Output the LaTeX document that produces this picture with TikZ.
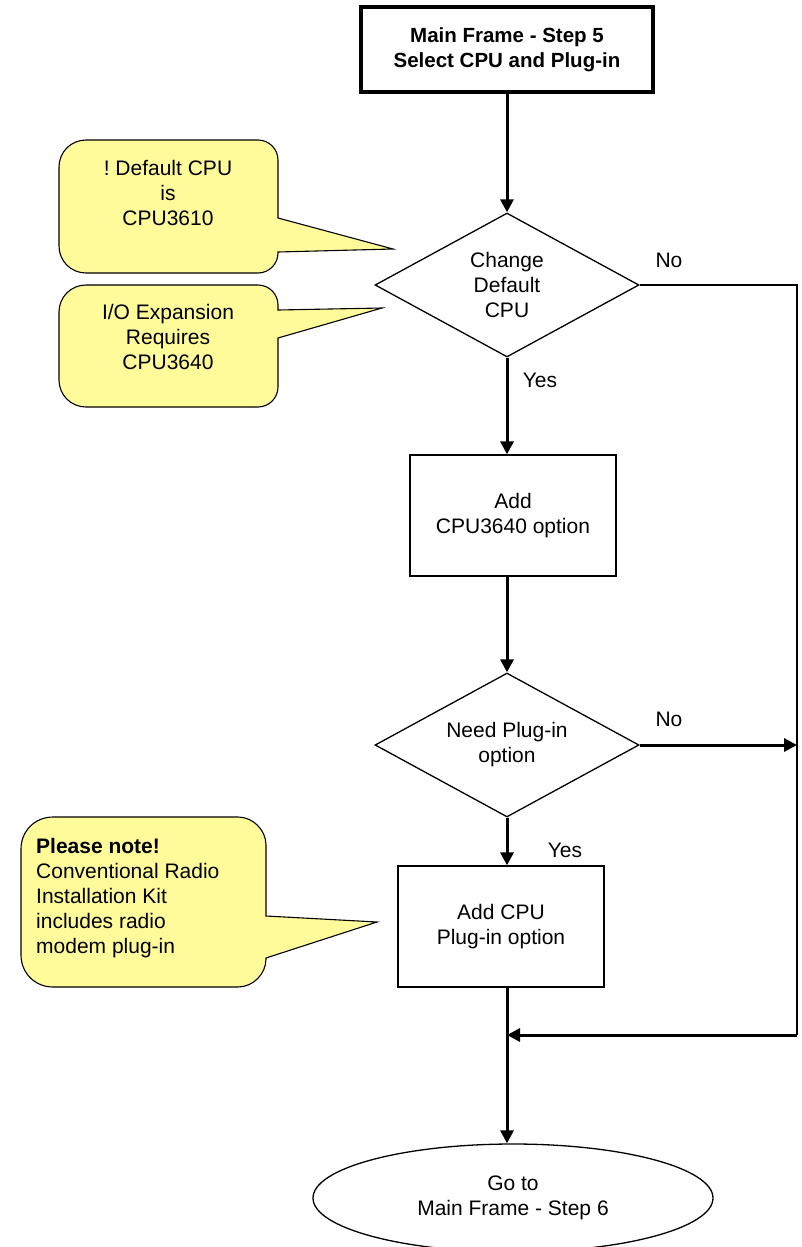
\documentclass[tikz,border=0pt]{standalone}
\usepackage{fontspec}
\setmainfont{Liberation Sans}
\usetikzlibrary{arrows.meta,shapes.geometric}
\definecolor{notefill}{RGB}{255,251,155}
\frenchspacing
\tikzset{
  txt/.style={font=\fontsize{21}{25}\selectfont, align=center},
  procbox/.style={draw, line width=1.3pt, rectangle, inner sep=0pt, txt},
  titlebox/.style={draw, line width=3.3pt, rectangle, inner sep=0pt, align=center, font=\fontsize{20.5}{25}\selectfont\bfseries},
  decision/.style={draw, line width=1.3pt, diamond, aspect=1.83, inner sep=0pt, txt},
  terminal/.style={draw, line width=1.3pt, ellipse, inner sep=0pt, txt},
  conn/.style={line width=3pt, -{Triangle[length=13pt,width=13pt]}},
  thinline/.style={line width=1.3pt},
  callout/.style={draw, line width=1.1pt, fill=notefill},
  lbl/.style={font=\fontsize{21}{25}\selectfont, anchor=base, inner sep=0pt}
}
\begin{document}
\begin{tikzpicture}[x=1pt,y=-1pt]
\useasboundingbox (0,0) rectangle (801,1247);
\fill[white] (0,0) rectangle (801,1247);

% callouts
\draw[callout] (86,140) -- (258,140) .. controls (269,140) and (278,149) .. (278,160) -- (278,218) -- (393,249) -- (278,252) -- (278,253) .. controls (278,264) and (269,273) .. (258,273) -- (86,273) .. controls (71,273) and (59,261) .. (59,246) -- (59,167) .. controls (59,152) and (71,140) .. (86,140) -- cycle;
\node[txt, inner sep=0pt] (c1t) at (168,192.5) {! Default CPU\\is\\CPU3610};

\draw[callout] (86,285) -- (258,285) .. controls (269,285) and (278,294) .. (278,305) -- (278,310) -- (382,308) -- (278,338) -- (278,387) .. controls (278,398) and (269,407) .. (258,407) -- (86,407) .. controls (71,407) and (59,395) .. (59,380) -- (59,312) .. controls (59,297) and (71,285) .. (86,285) -- cycle;
\node[txt, inner sep=0pt] (c2t) at (168,337) {I/O Expansion\\Requires\\CPU3640};

\draw[callout] (53,817) -- (238,817) .. controls (253,817) and (266,830) .. (266,845) -- (266,916) -- (377,922) -- (266,958) -- (266,959) .. controls (266,974) and (253,987) .. (238,987) -- (53,987) .. controls (35,987) and (21,973) .. (21,955) -- (21,849) .. controls (21,831) and (35,817) .. (53,817) -- cycle;
\node[txt, align=left, anchor=west, inner sep=0pt] (c3t) at (36,898) {\textbf{Please note!}\\Conventional Radio\\Installation Kit\\includes radio\\modem plug-in};

% flow nodes
\node[titlebox, minimum width=292pt, minimum height=85pt] (top) at (507,49.5) {Main Frame - Step 5\\Select CPU and Plug-in};
\node[decision, minimum width=264pt, minimum height=144pt] (d1) at (507,285) {Change\\Default\\CPU};
\node[procbox, minimum width=206pt, minimum height=121pt] (r1) at (513,515.5) {Add\\CPU3640 option};
\node[decision, minimum width=264pt, minimum height=144pt] (d2) at (507,745) {Need Plug-in\\option};
\node[procbox, minimum width=206pt, minimum height=121pt] (r2) at (501,926.5) {Add CPU\\Plug-in option};
\node[terminal, minimum width=400pt, minimum height=108pt] (end) at (513,1198) {Go to\\Main Frame - Step 6};

\coordinate (rt) at (797,285);
\coordinate (rb) at (797,1035);
\coordinate (mg) at (507,1035);

% labels
\node[lbl] (no1) at (669,267) {No};
\node[lbl] (yes1) at (540,387) {Yes};
\node[lbl] (no2) at (669,726) {No};
\node[lbl] (yes2) at (565,857) {Yes};

% connectors
\draw[conn] (top) -- (d1);
\draw[conn] (d1.south) -- (d1.south |- r1.north);
\draw[conn] (d2.north |- r1.south) -- (d2.north);
\draw[conn] (d2.south) -- (d2.south |- r2.north);
\draw[conn] (d2.south |- r2.south) -- (d2.south |- end.north);
\draw[thinline] (d1.east) -- (rt) -- (rb);
\draw[conn] (d2.east) -- (d2.east -| rt);
\draw[conn] (rb) -- (mg);
\end{tikzpicture}
\end{document}
